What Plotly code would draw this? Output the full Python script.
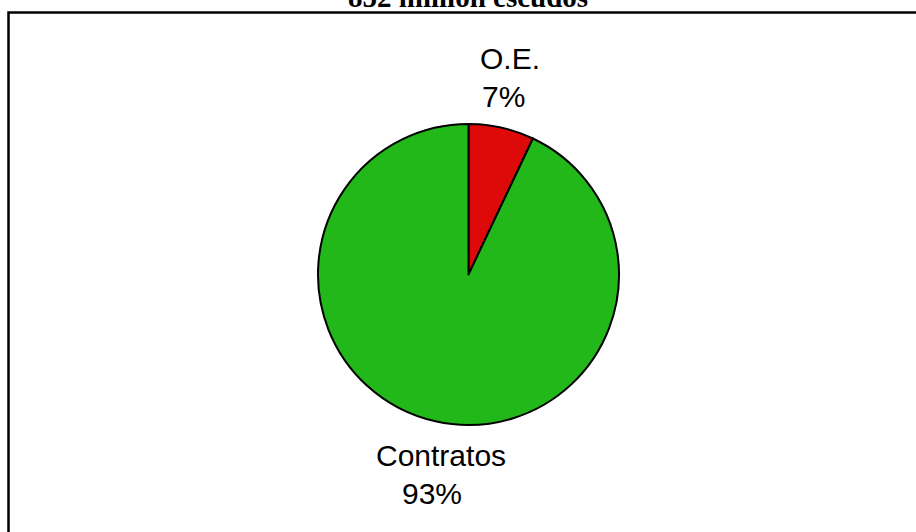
import plotly.graph_objects as go

# Budget split (million escudos)
categories = ["O.E.", "Contratos"]
values = [60, 792]
colors = ["#DE0A0A", "#22B81A"]
total = sum(values)
title_text = f"{total} million escudos"

W, H = 916, 532
cx, cy, r = 468.5, 274.5, 150.5  # pie centre / radius in pixels

fig = go.Figure(
    go.Pie(
        labels=categories,
        values=values,
        sort=False,
        direction="clockwise",
        rotation=0,
        marker=dict(colors=colors, line=dict(color="black", width=2)),
        textinfo="none",
        hoverinfo="label+percent",
        showlegend=False,
        domain=dict(
            x=[(cx - r) / W, (cx + r) / W],
            y=[1 - (cy + r) / H, 1 - (cy - r) / H],
        ),
    )
)

pct = [round(100 * v / total) for v in values]

label_font = dict(family="Liberation Sans, Arial", size=30, color="black")
# (text, x px, y px) for the slice labels
label_pos = [
    (categories[0], 510, 59),
    (f"{pct[0]}%", 504, 96),
    (categories[1], 441, 455),
    (f"{pct[1]}%", 432, 493),
]
annotations = [
    dict(text=t, x=x / W, y=1 - y / H, xref="paper", yref="paper",
         xanchor="center", yanchor="middle", showarrow=False, font=label_font)
    for t, x, y in label_pos
]
annotations.append(
    dict(text=f"<b>{title_text}</b>", x=468 / W, y=1 - 15 / H,
         xref="paper", yref="paper", xanchor="center", yanchor="bottom",
         showarrow=False,
         font=dict(family="Liberation Serif, Times New Roman", size=29, color="black"))
)

fig.update_layout(
    width=W,
    height=H,
    margin=dict(l=0, r=0, t=0, b=0),
    paper_bgcolor="white",
    plot_bgcolor="white",
    annotations=annotations,
    shapes=[
        dict(type="rect", xref="paper", yref="paper",
             x0=8.5 / W, x1=1.05, y0=-0.05, y1=1 - 12.5 / H,
             line=dict(color="black", width=2.5), fillcolor="rgba(0,0,0,0)",
             layer="below")
    ],
)

fig.write_html("out.html")
